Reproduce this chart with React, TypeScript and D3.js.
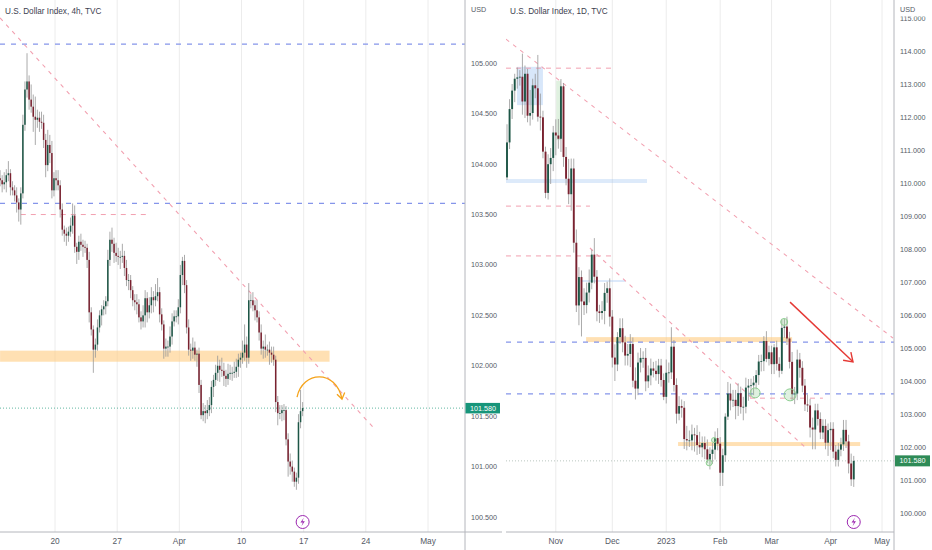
import React from "react";
import * as d3 from "d3";

// ---------- left chart: U.S. Dollar Index, 4h ----------
const closes4h = [
  103.84, 103.8, 103.82, 103.89, 103.91, 103.77, 103.74, 103.69, 103.62, 103.55,
  103.71, 104.39, 104.74, 104.82, 104.64, 104.57, 104.47, 104.44, 104.46, 104.42,
  104.41, 104.24, 103.99, 104.19, 104.11, 103.74, 103.86, 103.84, 103.79, 103.55,
  103.35, 103.31, 103.29, 103.33, 103.39, 103.49, 103.18, 103.13, 103.23, 103.2,
  103.18, 103.17, 103.05, 102.53, 102.36, 102.16, 102.21, 102.38, 102.5, 102.56,
  102.59, 102.64, 103.05, 103.25, 103.21, 103.12, 103.09, 103.08, 103.08, 103.09,
  102.97, 102.85, 102.85, 102.75, 102.65, 102.63, 102.61, 102.48, 102.44, 102.5,
  102.67, 102.53, 102.6, 102.68, 102.65, 102.69, 102.73, 102.51, 102.41, 102.17,
  102.19, 102.19, 102.29, 102.44, 102.49, 102.49, 102.58, 102.9, 103.04, 102.8,
  102.38, 102.16, 102.15, 102.18, 102.11, 102.12, 101.81, 101.51, 101.55, 101.53,
  101.56, 101.61, 101.79, 101.86, 101.93, 102.0, 101.96, 101.95, 101.9, 101.87,
  101.92, 101.93, 101.93, 101.94, 101.99, 102.06, 102.08, 102.13, 102.21, 102.08,
  102.65, 102.65, 102.6, 102.55, 102.48, 102.33, 102.17, 102.19, 102.16, 102.16,
  102.13, 102.11, 102.06, 101.64, 101.53, 101.53, 101.56, 101.56, 101.27, 101.05,
  101.0, 100.95, 100.85, 100.89, 101.44, 101.55, 101.58,
];
// wick lengths in hundredths of a point
const wickUp4h = [
  8, 5, 10, 6, 12, 4, 6, 5, 8, 4, 6,
  10, 8, 28, 6, 15, 12, 20, 8, 6, 10,
  8, 6, 15, 10, 12, 6, 8, 10, 5, 6,
  4, 6, 5, 8, 12, 10, 4, 6, 8, 5,
  6, 4, 8, 5, 4, 6, 8, 5, 4, 6,
  5, 10, 8, 12, 6, 10, 8, 6, 12, 5,
  8, 6, 5, 4, 6, 8, 5, 6, 10, 8,
  6, 8, 10, 6, 12, 14, 5, 6, 4, 8,
  6, 10, 8, 6, 6, 8, 10, 4, 6, 5,
  8, 6, 10, 6, 4, 6, 5, 8, 6, 10,
  8, 6, 5, 8, 10, 6, 12, 8, 6, 10,
  8, 6, 10, 8, 6, 5, 12, 20, 8, 17,
  6, 8, 5, 10, 6, 8, 6, 12, 5, 8,
  6, 8, 4, 6, 8, 5, 6, 4, 6, 8,
  6, 4, 5, 8, 21, 6,
];
const wickDn4h = [
  6, 8, 5, 10, 6, 8, 5, 6, 10, 12, 15,
  5, 6, 8, 10, 6, 15, 25, 8, 10, 6,
  8, 12, 6, 10, 8, 6, 10, 5, 8, 6,
  8, 10, 6, 5, 8, 6, 12, 8, 6, 10,
  5, 8, 10, 6, 23, 8, 6, 5, 10, 6,
  8, 5, 6, 8, 10, 6, 8, 12, 6, 8,
  6, 10, 8, 6, 8, 10, 5, 8, 6, 12,
  10, 6, 8, 12, 6, 5, 8, 6, 10, 8,
  10, 6, 8, 5, 6, 8, 6, 10, 8, 6,
  6, 10, 8, 6, 12, 8, 4, 6, 10, 6,
  6, 8, 10, 6, 8, 12, 6, 10, 8, 6,
  6, 8, 5, 6, 10, 8, 6, 8, 10, 6,
  8, 6, 10, 5, 8, 6, 10, 8, 6, 12,
  8, 6, 10, 12, 6, 8, 10, 6, 15, 8,
  10, 5, 8, 6, 6, 5,
];
const firstOpen4h = 103.86;
const weekLabels4h = ["20", "27", "Apr", "10", "17", "24", "May"];
const weekBars4h = [26.5, 56.5, 86.5, 116.5, 146.5, 176.5, 206.5];
const priceTicks4h = [100.5, 101, 101.5, 102, 102.5, 103, 103.5, 104, 104.5, 105];

// drawings on the 4h chart, as [bar, price]
const blueLevels = [105.19, 103.61];
const redLevel4h = { from: 10, to: 72, price: 103.5 };
const trend4h = [[0, 105.45], [180, 101.39]];
const zone4h = { from: 0, to: 159, top: 102.15, bottom: 102.04 };
const curve4h = [[143.3, 101.69], [146, 101.95], [162, 101.97], [165, 101.67]];

// ---------- right chart: U.S. Dollar Index, 1D ----------
const closes1d = [
  111.23, 112.24, 112.8, 113.16, 113.2, 113.22, 112.47, 113.31, 112.04, 112.12,
  112.96, 112.87, 112.01, 111.99, 110.95, 109.7, 110.57, 110.76, 111.53, 111.44,
  111.34, 112.93, 110.79, 110.13, 109.66, 110.44, 108.19, 106.29, 107.15, 106.41,
  106.3, 106.68, 106.98, 107.83, 107.16, 106.11, 106.06, 106.12, 106.67, 106.81,
  105.95, 104.71, 104.5, 105.33, 105.6, 105.17, 104.77, 104.82, 105.12, 104.01,
  103.77, 104.56, 104.7, 104.7, 103.99, 104.17, 104.38, 104.31, 104.21, 104.47,
  104.03, 103.52, 104.25, 104.26, 105.04, 103.88, 103.01, 103.24, 103.19, 102.24,
  102.2, 102.2, 102.38, 102.36, 102.06, 101.99, 102.12, 101.93, 101.62, 101.79,
  101.92, 102.27, 102.1, 101.22, 101.75, 102.92, 103.62, 103.41, 103.43, 103.24,
  103.63, 103.21, 103.22, 103.8, 103.86, 103.87, 103.95, 104.18, 104.59, 104.6,
  105.21, 104.67, 104.87, 104.51, 105.02, 104.52, 104.31, 105.61, 105.65, 105.29,
  104.58, 103.6, 103.62, 104.65, 104.4, 103.86, 103.29, 103.26, 102.59, 102.53,
  103.11, 102.85, 102.44, 102.64, 102.13, 102.51, 102.55, 101.86, 101.61, 101.92,
  102.08, 102.52, 102.17, 101.5, 101.02, 101.58,
];
const wickUp1d = [
  55, 30, 20, 15, 30, 20, 70, 25, 15, 70,
  20, 35, 101, 70, 20, 15, 30, 30, 20, 40,
  50, 22, 10, 30, 60, 30, 30, 40, 30, 20,
  40, 30, 40, 15, 50, 20, 20, 30, 30, 20,
  30, 20, 40, 15, 30, 30, 20, 30, 30, 20,
  40, 30, 30, 20, 30, 30, 30, 20, 30, 20,
  20, 20, 40, 30, 59, 20, 20, 30, 20, 20,
  40, 30, 30, 20, 30, 40, 20, 20, 30, 20,
  20, 20, 30, 20, 20, 10, 35, 30, 30, 30,
  30, 20, 30, 30, 20, 20, 20, 15, 20, 20,
  15, 30, 20, 20, 10, 20, 20, 25, 23, 30,
  20, 30, 20, 30, 20, 20, 20, 30, 20, 30,
  20, 20, 20, 20, 20, 20, 20, 20, 20, 20,
  20, 30, 30, 20, 30, 15,
];
const wickDn1d = [
  8, 20, 30, 35, 30, 25, 40, 50, 20, 30,
  20, 30, 15, 40, 20, 16, 20, 60, 40, 60,
  30, 40, 30, 20, 30, 50, 30, 20, 60, 106,
  30, 25, 30, 20, 20, 30, 30, 20, 40, 30,
  30, 30, 50, 20, 20, 30, 30, 30, 40, 20,
  33, 20, 30, 30, 30, 20, 30, 20, 20, 30,
  20, 10, 20, 30, 20, 20, 30, 20, 30, 30,
  30, 20, 30, 50, 30, 20, 30, 30, 10, 30,
  30, 30, 20, 40, 40, 20, 10, 30, 20, 40,
  30, 20, 40, 20, 40, 30, 30, 20, 30, 30,
  30, 10, 20, 30, 30, 20, 20, 10, 30, 20,
  20, 20, 30, 20, 30, 20, 20, 20, 30, 60,
  60, 20, 20, 20, 20, 40, 60, 20, 20, 20,
  20, 20, 20, 30, 20, 23,
];
const firstOpen1d = 110.17;
const monthLabels1d = ["Nov", "Dec", "2023", "Feb", "Mar", "Apr", "May"];
const monthBars1d = [19, 41, 62, 83, 103, 126, 146];
const priceTicks1d = [100, 101, 102, 103, 104, 105, 106, 107, 108, 109, 110, 111, 112, 113, 114, 115];

// drawings on the 1D chart, as [bar, price]
const blueLevels1d = [105.18, 103.61];
const trends1d = [
  [[-0.4, 114.36], [150.3, 105.3]],
  [[32.3, 108.03], [117.2, 101.91]],
];
const redLevels1d = [
  { from: -0.4, to: 42.4, price: 113.48 },
  { from: -0.4, to: 32.3, price: 109.3 },
  { from: -0.4, to: 42.4, price: 107.79 },
  { from: 94.6, to: 123, price: 103.48 },
];
const zones1d = [
  { from: 30.8, to: 111, top: 105.33, bottom: 105.18 },
  { from: 66.6, to: 137.5, top: 102.15, bottom: 102.03 },
];
const blueBoxes1d = [
  { from: 3.9, to: 14, top: 113.52, bottom: 112.36, a: 0.35 },
  { from: -0.4, to: 54.5, top: 110.12, bottom: 110.0, a: 0.3 },
];
const greenBox1d = { from: 19.2, to: 21, top: 113.1, bottom: 111.3 };
const blueLine1d = { from: 29.2, to: 46, price: 107.03 };
const circles1d = [
  { bar: 107.9, price: 105.79, r: 3.5 },
  { bar: 96.6, price: 103.64, r: 5 },
  { bar: 110.2, price: 103.58, r: 6 },
  { bar: 78.7, price: 101.52, r: 3 },
  { bar: 80.6, price: 102.21, r: 2.5 },
];
const arrow1d = [[110.2, 106.39], [134.7, 104.58]];

const lastPrice = 101.58;

type Bar = { i: number; o: number; c: number; h: number; l: number };

function toBars(closes: number[], up: number[], dn: number[], firstOpen: number): Bar[] {
  return closes.map((c, i) => {
    const o = i === 0 ? firstOpen : closes[i - 1];
    return { i, o, c, h: Math.max(o, c) + up[i] / 100, l: Math.min(o, c) - dn[i] / 100 };
  });
}

const FONT = "'Liberation Sans', Arial, sans-serif";
const UP = "#1d5646";
const DOWN = "#7a2230";
const WICK = "#959595";
const GRID = "#ececec";
const AXIS = "#b4b6bc";
const TEXT = "#555a66";
const BLUE_DASH = "#8595ea";
const PINK = "#f2a0b0";
const ZONE = "rgba(255,204,128,0.6)";

function Candles({ bars, x, y, w }: { bars: Bar[]; x: (v: number) => number; y: (v: number) => number; w: number }) {
  return (
    <g>
      {bars.map((b) => {
        const top = y(Math.max(b.o, b.c));
        const bot = y(Math.min(b.o, b.c));
        return (
          <g key={b.i}>
            <line x1={x(b.i)} x2={x(b.i)} y1={y(b.h)} y2={y(b.l)} stroke={WICK} strokeWidth={0.8} />
            <rect x={x(b.i) - w / 2} y={top} width={w} height={Math.max(0.8, bot - top)} fill={b.c >= b.o ? UP : DOWN} />
          </g>
        );
      })}
    </g>
  );
}

function Bolt({ cx, cy }: { cx: number; cy: number }) {
  return (
    <g transform={`translate(${cx},${cy})`}>
      <circle r={6.5} fill="#fff" stroke="#9c27b0" strokeWidth={1} />
      <path d="M1.2,-4.2 L-2.2,0.6 L0.2,0.6 L-1.2,4.2 L2.2,-0.8 L-0.2,-0.8 Z" fill="#9c27b0" />
    </g>
  );
}

function arrowHead(x1: number, y1: number, x2: number, y2: number, len: number, spread: number) {
  const a = Math.atan2(y2 - y1, x2 - x1);
  const p = d3.path();
  p.moveTo(x2 - len * Math.cos(a - spread), y2 - len * Math.sin(a - spread));
  p.lineTo(x2, y2);
  p.lineTo(x2 - len * Math.cos(a + spread), y2 - len * Math.sin(a + spread));
  return p.toString();
}

export default function App() {
  const bars4h = toBars(closes4h, wickUp4h, wickDn4h, firstOpen4h);
  const bars1d = toBars(closes1d, wickUp1d, wickDn1d, firstOpen1d);

  const xL = d3.scaleLinear().domain([weekBars4h[0], weekBars4h[6]]).range([55, 428]);
  const yL = d3.scaleLinear().domain([100.5, 105]).range([517, 63.3]);
  const xR = d3.scaleLinear().domain([0, 146]).range([507, 882]);
  const yR = d3.scaleLinear().domain([100, 114]).range([513, 51]);

  const plotBottom = 532;

  // curved arrow on the 4h chart
  const c = curve4h.map(([b, p]) => [xL(b), yL(p)]);
  const curvePath = d3.path();
  curvePath.moveTo(c[0][0], c[0][1]);
  curvePath.bezierCurveTo(c[1][0], c[1][1], c[2][0], c[2][1], c[3][0], c[3][1]);

  const ax1 = xR(arrow1d[0][0]), ay1 = yR(arrow1d[0][1]);
  const ax2 = xR(arrow1d[1][0]), ay2 = yR(arrow1d[1][1]);

  return (
    <svg width={932} height={550} style={{ position: "absolute", left: 0, top: 0, background: "#fff" }} fontFamily={FONT}>
      <defs>
        <clipPath id="clipL"><rect x={0} y={0} width={465} height={plotBottom} /></clipPath>
        <clipPath id="clipR"><rect x={506} y={0} width={388} height={plotBottom} /></clipPath>
        <clipPath id="clipAxisR"><rect x={894} y={16.5} width={38} height={540} /></clipPath>
      </defs>

      {/* ---------- left panel ---------- */}
      <g clipPath="url(#clipL)">
        {weekBars4h.map((b, i) => (
          <line key={i} x1={xL(b)} x2={xL(b)} y1={0} y2={plotBottom} stroke={GRID} strokeWidth={1} />
        ))}
        <rect x={xL(zone4h.from)} y={yL(zone4h.top)} width={xL(zone4h.to) - xL(zone4h.from)}
          height={yL(zone4h.bottom) - yL(zone4h.top)} fill={ZONE} />
        {blueLevels.map((p, i) => (
          <line key={i} x1={0} x2={465} y1={yL(p)} y2={yL(p)} stroke={BLUE_DASH} strokeWidth={1.2} strokeDasharray="5,6" />
        ))}
        <line x1={xL(redLevel4h.from)} x2={xL(redLevel4h.to)} y1={yL(redLevel4h.price)} y2={yL(redLevel4h.price)}
          stroke={PINK} strokeWidth={1} strokeDasharray="5,5" />
        <line x1={xL(trend4h[0][0])} y1={yL(trend4h[0][1])} x2={xL(trend4h[1][0])} y2={yL(trend4h[1][1])}
          stroke={PINK} strokeWidth={1.1} strokeDasharray="4,5" />
        <line x1={0} x2={465} y1={yL(lastPrice)} y2={yL(lastPrice)} stroke="#3aa58a" strokeWidth={0.8} strokeDasharray="1,2" />
        <Candles bars={bars4h} x={xL} y={yL} w={1.5} />
        <path d={curvePath.toString()} fill="none" stroke="#f5a31a" strokeWidth={1.3} />
        <path d={arrowHead(c[2][0], c[2][1], c[3][0], c[3][1], 7, 0.6)} fill="none" stroke="#f5a31a" strokeWidth={1.3} />
      </g>
      <Bolt cx={xL(146)} cy={522} />
      <line x1={0} x2={502} y1={plotBottom} y2={plotBottom} stroke={AXIS} />
      {weekBars4h.map((b, i) => (
        <text key={i} x={xL(b)} y={544} textAnchor="middle" fontSize={8.3} fill={TEXT}>{weekLabels4h[i]}</text>
      ))}
      <text x={5} y={14} fontSize={8.2} fill="#3d4150">U.S. Dollar Index, 4h, TVC</text>

      {/* price axis of the 4h chart */}
      <line x1={465} x2={465} y1={0} y2={550} stroke={AXIS} />
      <text x={471} y={12} fontSize={7.2} fill={TEXT}>USD</text>
      {priceTicks4h.map((p) => (
        <text key={p} x={471} y={yL(p)} dy="0.35em" fontSize={7.2} fill={TEXT}>{p.toFixed(3)}</text>
      ))}
      <rect x={465.5} y={yL(lastPrice) - 5.2} width={34.5} height={10.5} fill="#17957a" />
      <text x={483} y={yL(lastPrice)} dy="0.35em" textAnchor="middle" fontSize={7.2} fill="#fff">{lastPrice.toFixed(3)}</text>

      {/* ---------- right panel ---------- */}
      <g clipPath="url(#clipR)">
        {monthBars1d.map((b, i) => (
          <line key={i} x1={xR(b)} x2={xR(b)} y1={0} y2={plotBottom} stroke={GRID} strokeWidth={1} />
        ))}
        {zones1d.map((z, i) => (
          <rect key={i} x={xR(z.from)} y={yR(z.top)} width={xR(z.to) - xR(z.from)} height={yR(z.bottom) - yR(z.top)} fill={ZONE} />
        ))}
        {blueBoxes1d.map((z, i) => (
          <rect key={i} x={xR(z.from)} y={yR(z.top)} width={xR(z.to) - xR(z.from)} height={yR(z.bottom) - yR(z.top)}
            fill={`rgba(144,186,240,${z.a})`} />
        ))}
        <rect x={xR(greenBox1d.from)} y={yR(greenBox1d.top)} width={xR(greenBox1d.to) - xR(greenBox1d.from)}
          height={yR(greenBox1d.bottom) - yR(greenBox1d.top)} fill="rgba(165,214,167,0.35)" />
        <line x1={xR(blueLine1d.from)} x2={xR(blueLine1d.to)} y1={yR(blueLine1d.price)} y2={yR(blueLine1d.price)}
          stroke="#b9d3f5" strokeWidth={1} />
        {blueLevels1d.map((p, i) => (
          <line key={i} x1={506} x2={894} y1={yR(p)} y2={yR(p)} stroke={BLUE_DASH} strokeWidth={1.2} strokeDasharray="5,6" />
        ))}
        {redLevels1d.map((r, i) => (
          <line key={i} x1={xR(r.from)} x2={xR(r.to)} y1={yR(r.price)} y2={yR(r.price)} stroke={PINK} strokeWidth={1} strokeDasharray="5,5" />
        ))}
        {trends1d.map((t, i) => (
          <line key={i} x1={xR(t[0][0])} y1={yR(t[0][1])} x2={xR(t[1][0])} y2={yR(t[1][1])}
            stroke={PINK} strokeWidth={1.1} strokeDasharray="4,5" />
        ))}
        <line x1={506} x2={894} y1={yR(lastPrice)} y2={yR(lastPrice)} stroke="#a8b8ae" strokeWidth={0.8} strokeDasharray="1,2" />
        <Candles bars={bars1d} x={xR} y={yR} w={1.9} />
        {circles1d.map((k, i) => (
          <circle key={i} cx={xR(k.bar)} cy={yR(k.price)} r={k.r} fill="rgba(129,199,132,0.25)" stroke="#8fcf92" strokeWidth={1} />
        ))}
        <line x1={ax1} y1={ay1} x2={ax2} y2={ay2} stroke="#e53935" strokeWidth={1.4} />
        <path d={arrowHead(ax1, ay1, ax2, ay2, 10, 0.6)} fill="none" stroke="#e53935" strokeWidth={1.4} />
      </g>
      <Bolt cx={xR(135)} cy={522} />
      <line x1={506} x2={894} y1={plotBottom} y2={plotBottom} stroke={AXIS} />
      {monthBars1d.map((b, i) => (
        <text key={i} x={xR(b)} y={544} textAnchor="middle" fontSize={8.3} fill={TEXT}>{monthLabels1d[i]}</text>
      ))}
      <text x={510} y={14} fontSize={8.2} fill="#3d4150">U.S. Dollar Index, 1D, TVC</text>

      {/* price axis of the 1D chart */}
      <line x1={894} x2={894} y1={0} y2={550} stroke={AXIS} />
      <text x={900} y={12} fontSize={7.2} fill={TEXT}>USD</text>
      <g clipPath="url(#clipAxisR)">
        {priceTicks1d.map((p) => (
          <text key={p} x={900} y={yR(p)} dy="0.35em" fontSize={7.2} fill={TEXT}>{p.toFixed(3)}</text>
        ))}
      </g>
      <rect x={895} y={yR(lastPrice) - 5.5} width={35} height={11} fill="#2e8b57" />
      <text x={912.5} y={yR(lastPrice)} dy="0.35em" textAnchor="middle" fontSize={7.2} fill="#fff">{lastPrice.toFixed(3)}</text>
    </svg>
  );
}
